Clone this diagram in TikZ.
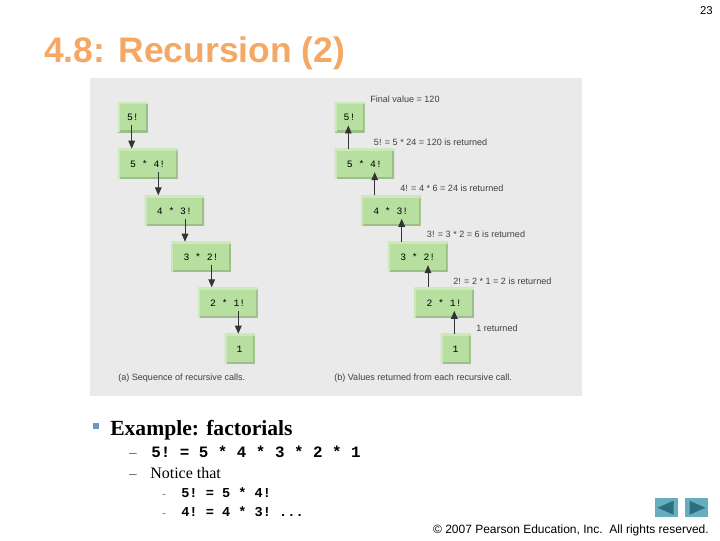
\documentclass[tikz,border=0pt]{standalone}
\usepackage{fontspec}
\setmainfont{Liberation Serif}
\setsansfont{Liberation Sans}
\setmonofont{Liberation Mono}
\usetikzlibrary{arrows.meta,calc}
\definecolor{panelgray}{RGB}{234,234,234}
\definecolor{boxgreen}{RGB}{183,224,160}
\definecolor{titleorange}{RGB}{244,168,100}
\definecolor{bulletblue}{RGB}{107,152,196}
\definecolor{navteal}{RGB}{102,174,191}
\definecolor{navdark}{RGB}{47,110,125}
\tikzset{
  stepbox/.style={anchor=north west, inner sep=0pt, minimum height=22.5pt, fill=boxgreen, font=\ttfamily\fontsize{7.3}{9}\selectfont,
    path picture={
      \draw[boxgreen!85!black, line width=3pt] (path picture bounding box.south west) -- (path picture bounding box.south east) -- (path picture bounding box.north east);
      \draw[boxgreen!70!white, line width=3pt] (path picture bounding box.south west) -- (path picture bounding box.north west) -- (path picture bounding box.north east);
    }},
  narrowbox/.style={stepbox, minimum width=22.5pt},
  widebox/.style={stepbox, minimum width=44.7pt},
  note/.style={anchor=base west, inner sep=0pt, text=black!75, font=\sffamily\fontsize{6.8}{8}\selectfont},
  navbtn/.style={anchor=north west, inner sep=0pt, minimum width=17.6pt, minimum height=14.2pt, fill=navteal},
  linearrow/.style={->, line width=0.7pt, black!80},
}
\begin{document}
\begin{tikzpicture}[x=0.75pt, y=-0.75pt, >={Stealth[length=6pt, width=5pt, inset=0pt]}]
  \useasboundingbox (0,0) rectangle (720,540);
  \node[anchor=north east, inner sep=0pt, font=\sffamily\fontsize{8.5}{10}\selectfont] (pagenum) at (713,6.5) {23};
  \node[anchor=base west, inner sep=0pt, text=titleorange, font=\sffamily\bfseries\fontsize{26.6}{30}\selectfont] (title) at (44,62.5) {4.8: Recursion (2)};
  \node[anchor=north west, inner sep=0pt, minimum width=369pt, minimum height=238.5pt, fill=panelgray] (panel) at (90,78) {};

  % sequence of calls
  \node[narrowbox] (a1) at (117.7,102) {5!};
  \node[widebox] (a2) at (117.7,148.7) {5 * 4!};
  \node[widebox] (a3) at (144.3,195.3) {4 * 3!};
  \node[widebox] (a4) at (171,241.7) {3 * 2!};
  \node[widebox] (a5) at (197.7,287.3) {2 * 1!};
  \node[narrowbox] (a6) at (224.3,333.7) {1};
  \foreach \from/\to in {a1/a2,a2/a3,a3/a4,a4/a5,a5/a6} {
    \coordinate (tip) at ($(\to.north west)+(14,0)$);
    \draw[linearrow, shorten <=-5.3pt] (tip |- \from.south) -- (tip);
  }
  \node[note] (capa) at (118,380) {(a) Sequence of recursive calls.};

  % values returned
  \node[narrowbox] (b1) at (334.3,102) {5!};
  \node[widebox] (b2) at (334.3,148.7) {5 * 4!};
  \node[widebox] (b3) at (360.7,195.3) {4 * 3!};
  \node[widebox] (b4) at (387.7,241.7) {3 * 2!};
  \node[widebox] (b5) at (414,287.3) {2 * 1!};
  \node[narrowbox] (b6) at (440.3,333.7) {1};
  \foreach \from/\to in {b2/b1,b3/b2,b4/b3,b5/b4,b6/b5} {
    \coordinate (tail) at ($(\from.north west)+(14,0)$);
    \draw[linearrow, shorten >=-5.3pt] (tail) -- (tail |- \to.south);
  }
  \node[note] (val0) at (370,102) {Final value = 120};
  \node[note] (val1) at (373.7,145) {5! = 5 * 24 = 120 is returned};
  \node[note] (val2) at (400,191) {4! = 4 * 6 = 24 is returned};
  \node[note] (val3) at (426.7,237) {3! = 3 * 2 = 6 is returned};
  \node[note] (val4) at (453,284) {2! = 2 * 1 = 2 is returned};
  \node[note] (val5) at (476,331) {1 returned};
  \node[note] (capb) at (334,380) {(b) Values returned from each recursive call.};

  % slide text
  \node[anchor=north west, inner sep=0pt, minimum size=4.5pt, fill=bulletblue] (bullet) at (92.5,423) {};
  \node[anchor=base west, inner sep=0pt, font=\bfseries\fontsize{16.2}{18}\selectfont] (head) at (110,435) {Example: factorials};
  \node[anchor=base west, inner sep=0pt, text=black!75, font=\fontsize{11}{13}\selectfont] (dash1) at (129,457) {--};
  \node[anchor=base west, inner sep=0pt, font=\ttfamily\bfseries\fontsize{11.9}{14}\selectfont] (line1) at (151,457) {5! = 5 * 4 * 3 * 2 * 1};
  \node[anchor=base west, inner sep=0pt, text=black!75, font=\fontsize{11}{13}\selectfont] (dash2) at (129,478) {--};
  \node[anchor=base west, inner sep=0pt, font=\fontsize{12}{14}\selectfont] (line2) at (150,478) {Notice that};
  \node[anchor=base west, inner sep=0pt, text=black!60, font=\fontsize{8}{10}\selectfont] (dash3) at (162,497) {-};
  \node[anchor=base west, inner sep=0pt, font=\ttfamily\bfseries\fontsize{10.2}{12}\selectfont] (line3) at (181,497) {5! = 5 * 4!};
  \node[anchor=base west, inner sep=0pt, text=black!60, font=\fontsize{8}{10}\selectfont] (dash4) at (162,516) {-};
  \node[anchor=base west, inner sep=0pt, font=\ttfamily\bfseries\fontsize{10.2}{12}\selectfont] (line4) at (181,516) {4! = 4 * 3! ...};

  % footer
  \node[navbtn] (prevbtn) at (654.5,498) {};
  \node[navbtn] (nextbtn) at (684.5,498) {};
  \fill[navdark] ($(prevbtn.center)+(-9,0)$) -- ($(prevbtn.center)+(7,-7)$) -- ($(prevbtn.center)+(7,7)$) -- cycle;
  \fill[navdark] ($(nextbtn.center)+(9,0)$) -- ($(nextbtn.center)+(-7,-7)$) -- ($(nextbtn.center)+(-7,7)$) -- cycle;
  \node[anchor=base east, inner sep=0pt, font=\sffamily\fontsize{9}{11}\selectfont] (rights) at (709,533) {\textcopyright{} 2007 Pearson Education, Inc.\ \ All rights reserved.};
\end{tikzpicture}
\end{document}
